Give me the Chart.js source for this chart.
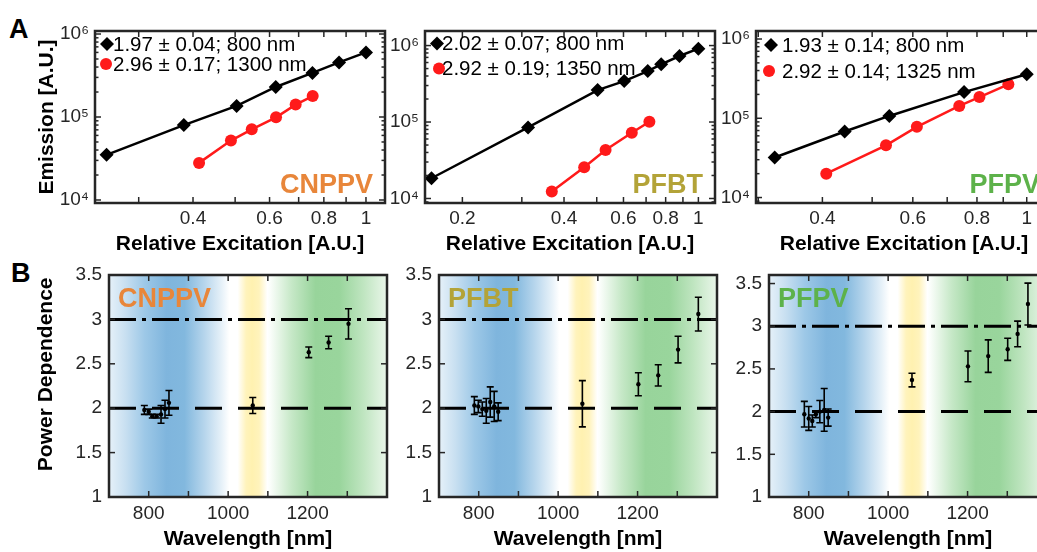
<!DOCTYPE html>
<html>
<head>
<meta charset="utf-8">
<script src="https://cdn.jsdelivr.net/npm/chart.js@4.4.0/dist/chart.umd.min.js"></script>
<style>
  html, body { margin: 0; padding: 0; background: #fff; overflow: hidden; }
  body { width: 1037px; height: 552px; position: relative; }
  canvas { position: absolute; left: 0; top: 0; }
  .letter { position: absolute; font: bold 27px 'Liberation Sans', Arial, sans-serif; line-height: 27px; color: #000; }
</style>
</head>
<body>
<div class="letter" style="left:9px; top:16px">A</div>
<div class="letter" style="left:11px; top:260px">B</div>
<canvas id="a1" width="1060" height="552"></canvas>
<canvas id="a2" width="1060" height="552"></canvas>
<canvas id="a3" width="1060" height="552"></canvas>
<canvas id="b1" width="1060" height="552"></canvas>
<canvas id="b2" width="1060" height="552"></canvas>
<canvas id="b3" width="1060" height="552"></canvas>
<script>
// ---- A: emission vs relative excitation ----
const cnppvExc800 = [0.253, 0.381, 0.504, 0.620, 0.753, 0.867, 1.0];
const cnppvEm800 = [3.5e4, 8.0e4, 1.36e5, 2.3e5, 3.4e5, 4.55e5, 6.0e5];
const cnppvExc1300 = [0.413, 0.489, 0.546, 0.621, 0.689, 0.754];
const cnppvEm1300 = [2.8e4, 5.2e4, 7.1e4, 9.9e4, 1.41e5, 1.79e5];

const pfbtExc800 = [0.162, 0.313, 0.503, 0.603, 0.708, 0.776, 0.879, 1.0];
const pfbtEm800 = [1.84e4, 8.5e4, 2.62e5, 3.43e5, 4.64e5, 5.68e5, 7.3e5, 9.1e5];
const pfbtExc1350 = [0.368, 0.459, 0.531, 0.635, 0.716];
const pfbtEm1350 = [1.23e4, 2.56e4, 4.31e4, 7.25e4, 1.01e5];

const pfpvExc800 = [0.323, 0.442, 0.540, 0.755, 1.0];
const pfpvEm800 = [3.2e4, 6.8e4, 1.07e5, 2.14e5, 3.6e5];
const pfpvExc1325 = [0.407, 0.532, 0.611, 0.739, 0.809, 0.921];
const pfpvEm1325 = [2.0e4, 4.56e4, 7.8e4, 1.43e5, 1.85e5, 2.68e5];

// ---- B: power dependence vs wavelength ----
const cnppvWl = [789, 800, 809, 820, 831, 841, 851, 1062, 1203, 1253, 1303];
const cnppvPd = [1.98, 1.96, 1.91, 1.91, 1.93, 1.99, 2.06, 2.03, 2.63, 2.74, 2.95];
const cnppvErr = [0.05, 0.03, 0.02, 0.02, 0.10, 0.10, 0.14, 0.09, 0.06, 0.07, 0.17];

const pfbtWl = [789, 799, 809, 819, 829, 839, 849, 1061, 1202, 1252, 1302, 1353];
const pfbtPd = [2.03, 2.02, 1.99, 1.97, 2.07, 2.02, 1.96, 2.05, 2.27, 2.37, 2.66, 3.06];
const pfbtErr = [0.10, 0.07, 0.08, 0.14, 0.17, 0.17, 0.10, 0.26, 0.13, 0.12, 0.15, 0.19];

const pfpvWl = [789, 800, 809, 818, 828, 839, 849, 1060, 1201, 1252, 1301, 1326, 1352];
const pfpvPd = [1.97, 1.92, 1.89, 1.97, 2.00, 2.02, 1.93, 2.37, 2.53, 2.65, 2.73, 2.91, 3.26];
const pfpvErr = [0.15, 0.14, 0.07, 0.04, 0.13, 0.25, 0.10, 0.08, 0.18, 0.19, 0.13, 0.15, 0.245];

// tick labels
const excTicksWide = [0.2, 0.4, 0.6, 0.8, 1];
const excTicks = [0.4, 0.6, 0.8, 1];
const excMarks = [0.2, 0.3, 0.4, 0.5, 0.6, 0.7, 0.8, 0.9, 1.0];
const emTicks = [1e4, 1e5, 1e6];
const wlRange = [700, 1400];
const wlTicks = [800, 1000, 1200];
const wlMarks = [800, 900, 1000, 1100, 1200, 1300];
const pdTicks = [1, 1.5, 2, 2.5, 3, 3.5];
const pdRefTwo = [2, 2];
const pdRefThree = [3, 3];

// ---- styling ----
const FONT = "'Liberation Sans', Arial, Helvetica, sans-serif";
const INK = '#262626';
Chart.defaults.font.family = FONT;
Chart.defaults.color = INK;
const CW = 1060, CH = 552;
const SUP = { 4: '\u2074', 5: '\u2075', 6: '\u2076' };

const bandStops = [
    [700, '#e6f1f9'], [740, '#c9e0f1'], [790, '#9dc8e7'], [845, '#7fb5dd'], [890, '#82b8de'],
    [940, '#b6d5ec'], [985, '#e8f2f9'], [1003, '#ffffff'], [1024, '#ffffff'], [1045, '#fff3bc'],
    [1060, '#fff1b0'], [1078, '#fff3bc'], [1099, '#ffffff'], [1105, '#fbfefb'], [1160, '#c6e8c7'],
    [1220, '#98d49b'], [1280, '#99d59c'], [1340, '#bfe5c0'], [1400, '#eaf6ea']
];

const pts = (xs, ys) => xs.map((x, i) => ({ x, y: ys[i] }));

function logMarks(min, max) {
    const out = [];
    for (let k = 3; k <= 6; k++) {
        for (let m = 1; m <= 9; m++) {
            const v = m * Math.pow(10, k);
            if (v > min && v < max) out.push([v, m === 1 ? 6 : 3.5]);
        }
    }
    return out;
}

const decor = {
    id: 'decor',
    beforeDatasetsDraw(chart, args, o) {
        if (!o.bands) return;
        const { ctx, chartArea: a, scales: { x } } = chart;
        const w = a.right - a.left;
        const g = ctx.createLinearGradient(a.left, 0, a.right, 0);
        o.bands.forEach(([v, c]) => {
            const t = (x.getPixelForValue(v) - a.left) / w;
            g.addColorStop(Math.min(1, Math.max(0, t)), c);
        });
        ctx.save();
        ctx.fillStyle = g;
        ctx.fillRect(a.left, a.top, w, a.bottom - a.top);
        ctx.restore();
    },
    afterDatasetsDraw(chart) {
        const { ctx, scales: { x, y } } = chart;
        chart.data.datasets.forEach((ds) => {
            if (!ds.errorBars) return;
            ctx.save();
            ctx.strokeStyle = '#000';
            ctx.lineWidth = 1.6;
            ds.data.forEach((p, j) => {
                const e = ds.errorBars[j];
                const px = x.getPixelForValue(p.x);
                const y1 = y.getPixelForValue(p.y - e);
                const y2 = y.getPixelForValue(p.y + e);
                ctx.beginPath();
                ctx.moveTo(px, y1); ctx.lineTo(px, y2);
                ctx.moveTo(px - 3.5, y1); ctx.lineTo(px + 3.5, y1);
                ctx.moveTo(px - 3.5, y2); ctx.lineTo(px + 3.5, y2);
                ctx.stroke();
            });
            ctx.restore();
        });
    },
    afterDraw(chart, args, o) {
        const { ctx, chartArea: a, scales: { x, y } } = chart;
        ctx.save();
        ctx.strokeStyle = INK;
        ctx.lineWidth = 1.5;
        const tick = (px, py, dx, dy) => {
            ctx.beginPath(); ctx.moveTo(px, py); ctx.lineTo(px + dx, py + dy); ctx.stroke();
        };
        (o.xMarks || []).forEach(([v, len]) => {
            const px = x.getPixelForValue(v);
            if (px <= a.left + 1 || px >= a.right - 1) return;
            tick(px, a.bottom, 0, -len); tick(px, a.top, 0, len);
        });
        (o.yMarks || []).forEach(([v, len]) => {
            const py = y.getPixelForValue(v);
            if (py <= a.top + 1 || py >= a.bottom - 1) return;
            tick(a.left, py, len, 0); tick(a.right, py, -len, 0);
        });
        ctx.lineWidth = 2.5;
        ctx.strokeRect(a.left, a.top, a.right - a.left, a.bottom - a.top);

        // legend inside the axes
        if (o.legend) {
            const L = o.legend;
            ctx.font = '20.5px ' + FONT;
            ctx.textBaseline = 'middle';
            ctx.textAlign = 'left';
            L.items.forEach((it, i) => {
                const cy = a.top + L.rows[i];
                const cx = a.left + L.mx[i];
                ctx.fillStyle = it.color;
                ctx.beginPath();
                if (it.marker === 'diamond') {
                    ctx.moveTo(cx - 7, cy); ctx.lineTo(cx, cy - 7); ctx.lineTo(cx + 7, cy); ctx.lineTo(cx, cy + 7);
                    ctx.closePath();
                } else {
                    ctx.arc(cx, cy, 6, 0, Math.PI * 2);
                }
                ctx.fill();
                ctx.fillStyle = '#000';
                ctx.fillText(it.text, a.left + L.tx, cy + 1);
            });
        }
        // polymer name
        if (o.label) {
            const lb = o.label;
            ctx.font = 'bold 27px ' + FONT;
            ctx.fillStyle = lb.color;
            ctx.textBaseline = 'alphabetic';
            if (lb.corner === 'br') {
                ctx.textAlign = 'right';
                ctx.fillText(lb.text, a.right - 12, a.bottom - 10);
            } else {
                ctx.textAlign = 'left';
                ctx.fillText(lb.text, a.left + 9, a.top + 32);
            }
        }
        ctx.restore();
    }
};

function layoutPad(box) {
    return { left: box.l - box.yW, top: box.t, right: CW - box.r, bottom: CH - box.b - box.xH };
}

function emissionChart(id, box, p) {
    new Chart(document.getElementById(id), {
        type: 'line',
        data: {
            datasets: [
                {
                    data: pts(p.exc800, p.em800), borderColor: '#000', backgroundColor: '#000',
                    borderWidth: 2.5, pointStyle: 'rectRot', pointRadius: 7, pointBorderWidth: 0
                },
                {
                    data: pts(p.excLong, p.emLong), borderColor: '#ff1a1a', backgroundColor: '#ff1a1a',
                    borderWidth: 2.5, pointStyle: 'circle', pointRadius: 6, pointBorderWidth: 0
                }
            ]
        },
        options: {
            responsive: false, animation: false, events: [],
            layout: { padding: layoutPad(box) },
            scales: {
                x: {
                    type: 'logarithmic', min: p.xRange[0], max: p.xRange[1],
                    grid: { display: false, drawTicks: false }, border: { display: false },
                    afterBuildTicks: (s) => { s.ticks = p.xTicks.map((v) => ({ value: v })); },
                    afterFit: (s) => { s.height = box.xH; },
                    ticks: { callback: (v) => String(v), font: { size: 19 }, padding: 4, maxRotation: 0, autoSkip: false },
                    title: {
                        display: true, text: 'Relative Excitation [A.U.]', color: '#000',
                        font: { size: 21, weight: 'bold' }, padding: { top: 0, bottom: 3 }
                    }
                },
                y: {
                    type: 'logarithmic', min: p.yRange[0], max: p.yRange[1],
                    grid: { display: false, drawTicks: false }, border: { display: false },
                    afterBuildTicks: (s) => { s.ticks = emTicks.map((v) => ({ value: v })); },
                    afterFit: (s) => { s.width = box.yW; },
                    ticks: { callback: (v) => '10' + SUP[Math.round(Math.log10(v))], font: { size: 19 }, padding: 6, autoSkip: false },
                    title: {
                        display: !!box.yTitle, text: 'Emission [A.U.]', color: '#000',
                        font: { size: 21, weight: 'bold' }, padding: { top: 35, bottom: 0 }
                    }
                }
            },
            plugins: {
                legend: { display: false }, tooltip: { enabled: false },
                decor: {
                    xMarks: excMarks.map((v) => [v, 6]),
                    yMarks: logMarks(p.yRange[0], p.yRange[1]),
                    legend: p.legend,
                    label: { text: p.name, color: p.color, corner: 'br' }
                }
            }
        },
        plugins: [decor]
    });
}

function powerChart(id, box, p) {
    new Chart(document.getElementById(id), {
        type: 'scatter',
        data: {
            datasets: [
                {
                    data: pts(wlRange, pdRefTwo), showLine: true, borderColor: '#000', borderWidth: 3,
                    borderDash: [27, 16], pointRadius: 0
                },
                {
                    data: pts(wlRange, pdRefThree), showLine: true, borderColor: '#000', borderWidth: 3,
                    borderDash: [27, 6, 4, 6], pointRadius: 0
                },
                {
                    data: pts(p.wl, p.pd), errorBars: p.err, pointRadius: 2.2, pointBorderWidth: 0,
                    backgroundColor: '#000', borderColor: '#000'
                }
            ]
        },
        options: {
            responsive: false, animation: false, events: [],
            layout: { padding: layoutPad(box) },
            scales: {
                x: {
                    type: 'linear', min: wlRange[0], max: wlRange[1],
                    grid: { display: false, drawTicks: false }, border: { display: false },
                    afterBuildTicks: (s) => { s.ticks = wlTicks.map((v) => ({ value: v })); },
                    afterFit: (s) => { s.height = box.xH; },
                    ticks: { callback: (v) => String(v), font: { size: 19 }, padding: 5, maxRotation: 0, autoSkip: false },
                    title: {
                        display: true, text: 'Wavelength [nm]', color: '#000',
                        font: { size: 21, weight: 'bold' }, padding: { top: 0, bottom: 0 }
                    }
                },
                y: {
                    type: 'linear', min: 1, max: p.yMax,
                    grid: { display: false, drawTicks: false }, border: { display: false },
                    afterBuildTicks: (s) => { s.ticks = pdTicks.map((v) => ({ value: v })); },
                    afterFit: (s) => { s.width = box.yW; },
                    ticks: { callback: (v) => String(v), font: { size: 19 }, padding: 7, autoSkip: false },
                    title: {
                        display: !!box.yTitle, text: '    Power Dependence', color: '#000',
                        font: { size: 21, weight: 'bold' }, padding: { top: 34, bottom: 0 }
                    }
                }
            },
            plugins: {
                legend: { display: false }, tooltip: { enabled: false },
                decor: {
                    bands: bandStops,
                    xMarks: wlMarks.map((v) => [v, 6]),
                    yMarks: pdTicks.map((v) => [v, 6]),
                    label: { text: p.name, color: p.color, corner: 'tl' }
                }
            }
        },
        plugins: [decor]
    });
}

const ORANGE = '#e8863a', GOLD = '#b3a338', GREEN = '#5db24a';

emissionChart('a1', { l: 95, t: 31, r: 385, b: 203, yW: 95, xH: 57, yTitle: true }, {
    exc800: cnppvExc800, em800: cnppvEm800, excLong: cnppvExc1300, emLong: cnppvEm1300,
    xRange: [0.238, 1.106], yRange: [9200, 1.087e6], xTicks: excTicks,
    name: 'CNPPV', color: ORANGE,
    legend: {
        rows: [13, 33], mx: [12, 11], tx: 18, items: [
            { marker: 'diamond', color: '#000', text: '1.97 \u00b1 0.04; 800 nm' },
            { marker: 'circle', color: '#ff1a1a', text: '2.96 \u00b1 0.17; 1300 nm' }
        ]
    }
});
emissionChart('a2', { l: 425, t: 31, r: 715, b: 203, yW: 40, xH: 57 }, {
    exc800: pfbtExc800, em800: pfbtEm800, excLong: pfbtExc1350, emLong: pfbtEm1350,
    xRange: [0.155, 1.12], yRange: [8730, 1.55e6], xTicks: excTicksWide,
    name: 'PFBT', color: GOLD,
    legend: {
        rows: [12.5, 37.5], mx: [12, 14], tx: 17, items: [
            { marker: 'diamond', color: '#000', text: '2.02 \u00b1 0.07; 800 nm' },
            { marker: 'circle', color: '#ff1a1a', text: '2.92 \u00b1 0.19; 1350 nm' }
        ]
    }
});
emissionChart('a3', { l: 756, t: 31, r: 1052, b: 203, yW: 40, xH: 57 }, {
    exc800: pfpvExc800, em800: pfpvEm800, excLong: pfpvExc1325, emLong: pfpvEm1325,
    xRange: [0.297, 1.12], yRange: [8530, 1.262e6], xTicks: excTicks,
    name: 'PFPV', color: GREEN,
    legend: {
        rows: [14, 40], mx: [15, 13], tx: 26, items: [
            { marker: 'diamond', color: '#000', text: '1.93 \u00b1 0.14; 800 nm' },
            { marker: 'circle', color: '#ff1a1a', text: '2.92 \u00b1 0.14; 1325 nm' }
        ]
    }
});

powerChart('b1', { l: 109, t: 275, r: 387, b: 497, yW: 109, xH: 55, yTitle: true },
    { wl: cnppvWl, pd: cnppvPd, err: cnppvErr, yMax: 3.5, name: 'CNPPV', color: ORANGE });
powerChart('b2', { l: 439, t: 275, r: 717, b: 497, yW: 40, xH: 55 },
    { wl: pfbtWl, pd: pfbtPd, err: pfbtErr, yMax: 3.5, name: 'PFBT', color: GOLD });
powerChart('b3', { l: 769, t: 275, r: 1047, b: 497, yW: 40, xH: 55 },
    { wl: pfpvWl, pd: pfpvPd, err: pfpvErr, yMax: 3.6, name: 'PFPV', color: GREEN });
</script>
</body>
</html>
